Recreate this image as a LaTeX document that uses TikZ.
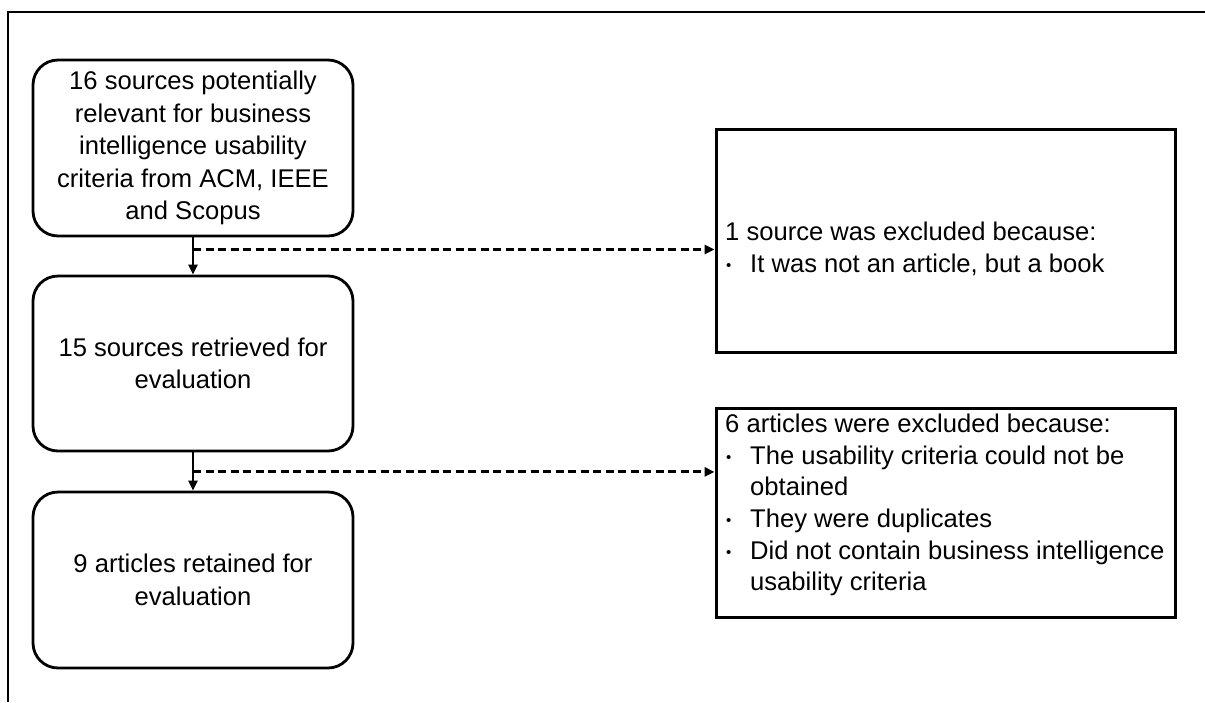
\documentclass[tikz,border=0pt]{standalone}
\usepackage{fontspec}
\setmainfont{Liberation Sans}
\usetikzlibrary{arrows.meta,calc}
% small list bullet followed by the item indent
\newcommand\itembul{\makebox[25pt][l]{\hspace{1pt}{\fontsize{15}{15}\selectfont\raisebox{2pt}{•}}}}
\newcommand\itemcont{\hspace*{25pt}}
\begin{document}
\begin{tikzpicture}[x=1pt,y=-1pt,
  stage/.style={draw,line width=2.8pt,rounded corners=25pt,minimum width=320pt,
    minimum height=176pt,align=center,inner sep=0pt,
    font=\fontsize{25.6}{32.5}\selectfont},
  exbox/.style={draw,line width=3pt,inner sep=0pt,minimum width=459pt},
  extext/.style={anchor=north west,align=left,inner sep=0pt,
    font=\fontsize{25.6}{31.6}\selectfont},
  flow/.style={line width=2.2pt,-{Triangle[length=10pt,width=9pt]}},
  skip/.style={line width=2.8pt,dash pattern=on 8pt off 4.5pt,
    -{Triangle[length=10pt,width=9pt]}},
]
\useasboundingbox (0,0) rectangle (1205,702);
% frame
\draw[line width=2pt] (1205,12) -- (8,12) -- (8,702);

% screening stages
\node[stage] (s1) at (193,148) {16 sources potentially\\relevant for business\\intelligence usability\\criteria from ACM, IEEE\\and Scopus};
\node[stage,minimum height=175pt] (s2) at (193,363.5) {15 sources retrieved for\\evaluation};
\node[stage] (s3) at (193,580) {9 articles retained for\\evaluation};

% exclusion boxes
\node[exbox,minimum height=223pt] (e1) at (945.5,240.5) {};
\node[exbox,minimum height=209pt] (e2) at (945.5,512.5) {};
\node[extext] (t1) at (725,222) {1 source was excluded because:\\\itembul It was not an article, but a book};
\node[extext] (t2) at (725,414) {6 articles were excluded because:\\
  \itembul The usability criteria could not be\\
  \itemcont obtained\\
  \itembul They were duplicates\\
  \itembul Did not contain business intelligence\\
  \itemcont usability criteria};

% flow
\draw[flow] (s1.south) -- (s2.north);
\draw[flow] (s2.south) -- (s3.north);
\coordinate (j1) at ($(s1.south)!0.325!(s2.north)$);
\coordinate (j2) at ($(s2.south)!0.51!(s3.north)$);
\draw[skip] (j1) -- (j1 -| e1.west);
\draw[skip] (j2) -- (j2 -| e2.west);
\end{tikzpicture}
\end{document}
